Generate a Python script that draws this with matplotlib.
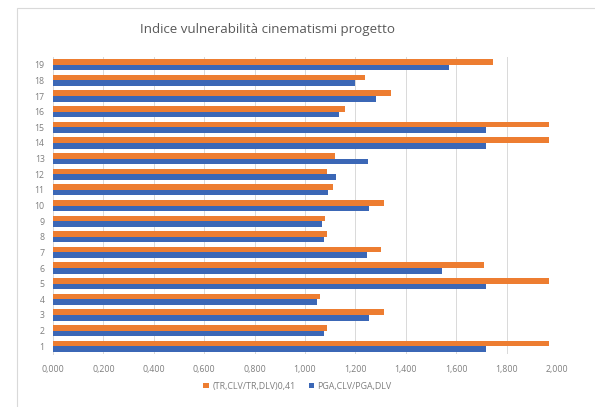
import matplotlib.pyplot as plt
from matplotlib.patches import Rectangle
from matplotlib.ticker import FuncFormatter
import numpy as np

categories = [str(i) for i in range(1, 20)]
tr_ratio = [1.968, 1.087, 1.313, 1.060, 1.968, 1.710, 1.300, 1.087, 1.079, 1.313,
            1.111, 1.087, 1.119, 1.968, 1.968, 1.159, 1.341, 1.238, 1.746]
pga_ratio = [1.718, 1.075, 1.254, 1.048, 1.718, 1.544, 1.246, 1.075, 1.067, 1.254,
             1.091, 1.123, 1.250, 1.718, 1.718, 1.135, 1.280, 1.198, 1.571]
labels = ["(TR,CLV/TR,DLV)0,41", "PGA,CLV/PGA,DLV"]

ORANGE = "#ED7D31"
BLUE = "#3B67B6"
GRAY = "#7f7f7f"

plt.rcParams["font.family"] = ["Open Sans", "DejaVu Sans"]

fig = plt.figure(figsize=(5.95, 4.07), dpi=100)
# cornice del grafico (il bordo destro esce dall'immagine)
fig.patches.append(Rectangle((17 / 595, -0.05), 1.0, 1.05 + 399 / 407 - 1, transform=fig.transFigure,
                             facecolor="white", edgecolor="#d9d9d9", linewidth=0.8, zorder=0))
ax = fig.add_axes([53 / 595, 1 - 354 / 407, 504 / 595, 297 / 407])
ax.set_facecolor("none")
ax.set_zorder(2)

y = np.arange(1, len(categories) + 1)
h = 0.36
ax.barh(y + h / 2, tr_ratio, height=h, color=ORANGE, label=labels[0], zorder=3)
ax.barh(y - h / 2, pga_ratio, height=h, color=BLUE, label=labels[1], zorder=3)

ax.set_xlim(0, 2.0)
ax.set_ylim(0.5, len(categories) + 0.5)
ax.set_xticks(np.arange(0, 2.01, 0.2))
ax.xaxis.set_major_formatter(FuncFormatter(lambda v, _: f"{v:.3f}".replace(".", ",")))
ax.set_yticks(y)
ax.set_yticklabels(categories)
ax.tick_params(axis="both", length=0, labelsize=6.3, colors=GRAY)
ax.tick_params(axis="x", pad=8)
ax.tick_params(axis="y", pad=6)
ax.grid(axis="x", color="#d9d9d9", linewidth=0.7, zorder=0)
for side in ["top", "right", "bottom"]:
    ax.spines[side].set_visible(False)
ax.spines["left"].set_color("#d9d9d9")
ax.spines["left"].set_linewidth(0.7)

fig.text(268 / 595, 1 - 30 / 407, "Indice vulnerabilità cinematismi progetto", ha="center", va="center",
         fontsize=9.6, color="#595959", zorder=3)

handles, lbls = ax.get_legend_handles_labels()
leg = fig.legend(handles, lbls, loc="center", bbox_to_anchor=(0.5, 1 - 386 / 407), ncol=2, frameon=False,
                 fontsize=6.4, labelcolor=GRAY, handlelength=0.6, handleheight=0.6, handletextpad=0.4,
                 columnspacing=1.5)
leg.set_zorder(3)

fig.savefig("out.png", dpi=100)
